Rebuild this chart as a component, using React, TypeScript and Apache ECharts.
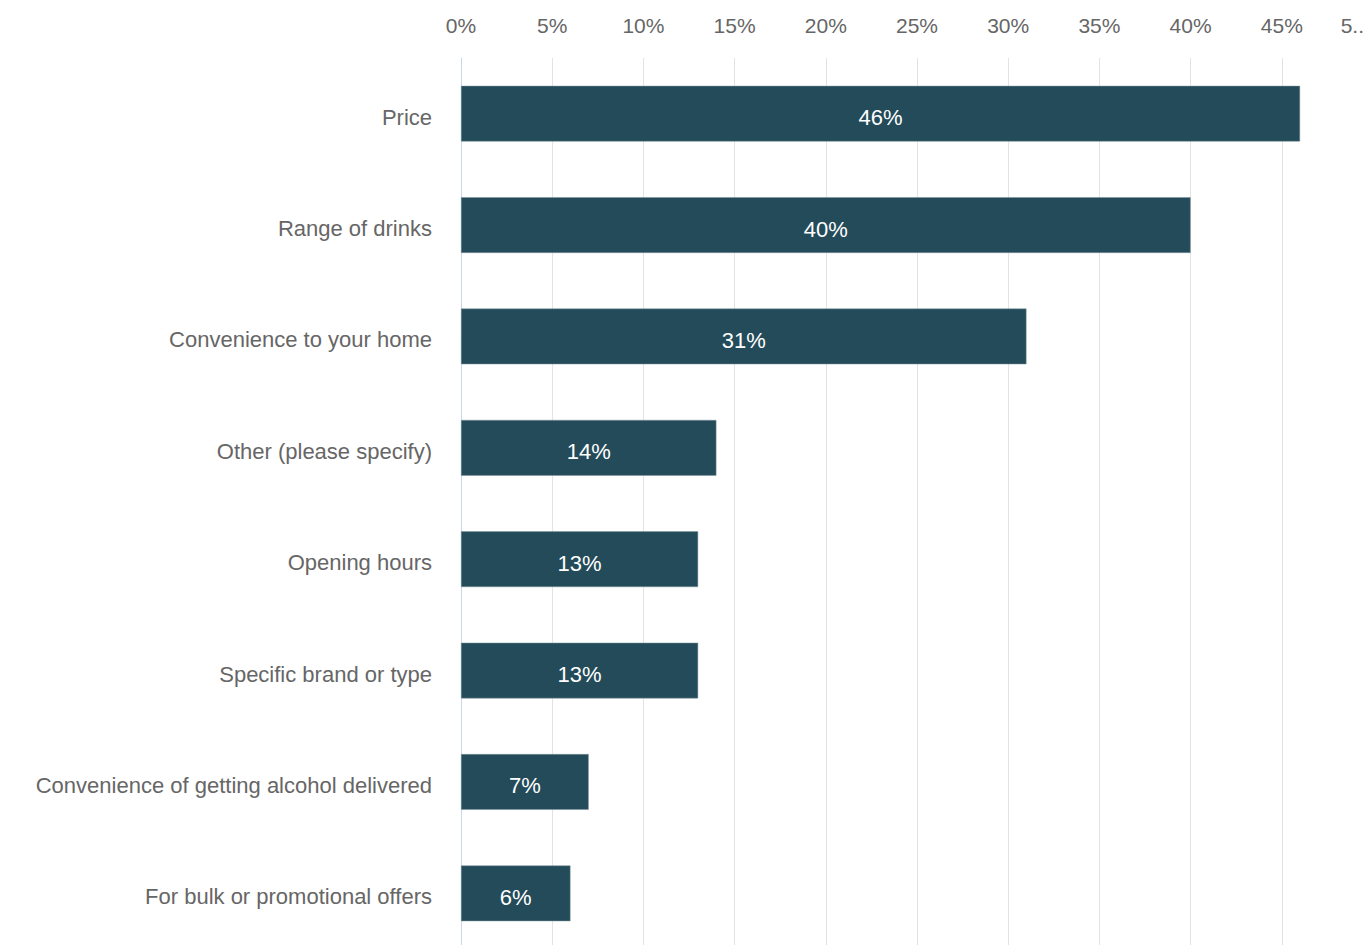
import React, { useEffect, useRef } from "react";
import * as echarts from "echarts";

const categories = [
  "Price",
  "Range of drinks",
  "Convenience to your home",
  "Other (please specify)",
  "Opening hours",
  "Specific brand or type",
  "Convenience of getting alcohol delivered",
  "For bulk or promotional offers",
];
const values = [46, 40, 31, 14, 13, 13, 7, 6];
const xMin = 0;
const xMax = 50;
const xInterval = 5;

export default function App() {
  const ref = useRef<HTMLDivElement>(null);
  useEffect(() => {
    if (!ref.current) return;
    const chart = echarts.init(ref.current, undefined, { renderer: "svg" });
    const font = "'Liberation Sans', Arial, sans-serif";
    chart.setOption({
      animation: false,
      backgroundColor: "#ffffff",
      grid: { left: 461, top: 58, right: 27, bottom: 11, outerBoundsMode: "none" },
      xAxis: {
        type: "value",
        position: "top",
        min: xMin,
        max: xMax,
        interval: xInterval,
        axisLine: { show: false },
        axisTick: { show: false },
        splitLine: { show: true, lineStyle: { color: "#e3e3e3", width: 1 } },
        axisLabel: {
          color: "#666666",
          fontSize: 21,
          fontFamily: font,
          margin: 22,
          alignMaxLabel: "right",
          formatter: (v: number) => (v === xMax ? "{m|5..}" : v + "%"),
          rich: {
            m: { color: "#666666", fontSize: 21, fontFamily: font, padding: [0, 9, 0, 0] },
          },
        },
      },
      yAxis: {
        type: "category",
        data: categories,
        inverse: true,
        axisLine: { show: true, lineStyle: { color: "#ccd6eb", width: 1 } },
        axisTick: { show: false },
        axisLabel: {
          color: "#666666",
          fontSize: 22,
          fontFamily: font,
          margin: 29,
          formatter: (v: string) => "{a|" + v + "}",
          rich: {
            a: { color: "#666666", fontSize: 22, fontFamily: font, padding: [7, 0, 0, 0] },
          },
        },
      },
      series: [
        {
          type: "bar",
          data: values,
          barWidth: "50%",
          itemStyle: { color: "#234b5a", borderColor: "#7f9299", borderWidth: 0.5 },
          label: {
            show: true,
            position: "inside",
            color: "#ffffff",
            fontSize: 22,
            fontFamily: font,
            offset: [0, 4],
            formatter: (p: any) => p.value + "%",
          },
        },
      ],
    });
    return () => chart.dispose();
  }, []);
  return (
    <div
      ref={ref}
      style={{ position: "fixed", left: 0, top: 0, width: 1400, height: 960 }}
    />
  );
}
